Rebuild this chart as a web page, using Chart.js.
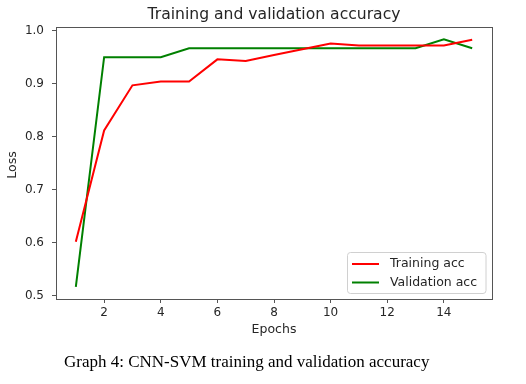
<!DOCTYPE html>
<html>
<head>
<meta charset="utf-8">
<script src="https://cdn.jsdelivr.net/npm/chart.js@4/dist/chart.umd.min.js"></script>
<style>
  html, body { margin: 0; padding: 0; background: #fff; }
  #wrap { position: relative; width: 526px; height: 384px; }
  #c { position: absolute; left: 0; top: 0; }
  #caption { position: absolute; left: 64px; top: 351px; font-family: "Liberation Serif", "Times New Roman", serif; font-size: 17px; color: #000; white-space: nowrap; line-height: 21px; }
</style>
</head>
<body>
<div id="wrap">
  <canvas id="c" width="526" height="384"></canvas>
  <div id="caption">Graph 4: CNN-SVM training and validation accuracy</div>
</div>
<script>
const epochs = [1, 2, 3, 4, 5, 6, 7, 8, 9, 10, 11, 12, 13, 14, 15];
const trainingAcc = [0.602, 0.812, 0.897, 0.904, 0.904, 0.946, 0.943, 0.954, 0.965, 0.976, 0.972, 0.972, 0.972, 0.972, 0.983];
const validationAcc = [0.517, 0.950, 0.950, 0.950, 0.967, 0.967, 0.967, 0.967, 0.967, 0.967, 0.967, 0.967, 0.967, 0.984, 0.967];
const xTicks = [2, 4, 6, 8, 10, 12, 14];
const yTicks = [0.5, 0.6, 0.7, 0.8, 0.9, 1.0];
const seriesLabels = ["Training acc", "Validation acc"];
const seriesColors = ["#ff0000", "#008000"];
const titleText = "Training and validation accuracy";
const xTitle = "Epochs";
const yTitle = "Loss";

const FONT = "'DejaVu Sans', sans-serif";
const TEXT = "#262626";
const SPINE = "#555555";

const toPts = (vals) => epochs.map((e, i) => ({ x: e, y: vals[i] }));

const decor = {
  id: 'decor',
  afterDraw(chart) {
    const ctx = chart.ctx;
    const a = chart.chartArea;
    ctx.save();
    // frame
    ctx.strokeStyle = SPINE;
    ctx.lineWidth = 1;
    ctx.strokeRect(Math.round(a.left) + 0.5, Math.round(a.top) + 0.5, Math.round(a.right - a.left), Math.round(a.bottom - a.top));
    // title
    ctx.fillStyle = TEXT;
    ctx.font = "15.6px " + FONT;
    ctx.textAlign = 'center';
    ctx.textBaseline = 'middle';
    ctx.fillText(titleText, (a.left + a.right) / 2, 15);
    // x title
    ctx.font = "12.5px " + FONT;
    ctx.fillText(xTitle, (a.left + a.right) / 2, 330);
    // y title
    ctx.save();
    ctx.translate(13, (a.top + a.bottom) / 2 + 2);
    ctx.rotate(-Math.PI / 2);
    ctx.fillText(yTitle, 0, 0);
    ctx.restore();
    // legend
    const lx = 347.5, ly = 252.5, lw = 138.5, lh = 41, r = 3;
    ctx.beginPath();
    ctx.moveTo(lx + r, ly);
    ctx.lineTo(lx + lw - r, ly);
    ctx.arcTo(lx + lw, ly, lx + lw, ly + r, r);
    ctx.lineTo(lx + lw, ly + lh - r);
    ctx.arcTo(lx + lw, ly + lh, lx + lw - r, ly + lh, r);
    ctx.lineTo(lx + r, ly + lh);
    ctx.arcTo(lx, ly + lh, lx, ly + lh - r, r);
    ctx.lineTo(lx, ly + r);
    ctx.arcTo(lx, ly, lx + r, ly, r);
    ctx.closePath();
    ctx.fillStyle = 'rgba(255,255,255,0.8)';
    ctx.fill();
    ctx.strokeStyle = '#d0d0d0';
    ctx.lineWidth = 1;
    ctx.stroke();
    const rows = [264, 282.5];
    chart.data.datasets.forEach((ds, i) => {
      ctx.strokeStyle = ds.borderColor;
      ctx.lineWidth = 2;
      ctx.beginPath();
      ctx.moveTo(352, rows[i]);
      ctx.lineTo(379, rows[i]);
      ctx.stroke();
      ctx.fillStyle = TEXT;
      ctx.font = "12.5px " + FONT;
      ctx.textAlign = 'left';
      ctx.textBaseline = 'middle';
      ctx.fillText(ds.label, 390, rows[i]);
    });
    ctx.restore();
  }
};

new Chart(document.getElementById('c'), {
  type: 'line',
  data: {
    datasets: [
      { label: seriesLabels[0], data: toPts(trainingAcc), borderColor: seriesColors[0], backgroundColor: seriesColors[0], borderWidth: 2, pointRadius: 0, tension: 0, fill: false },
      { label: seriesLabels[1], data: toPts(validationAcc), borderColor: seriesColors[1], backgroundColor: seriesColors[1], borderWidth: 2, pointRadius: 0, tension: 0, fill: false }
    ]
  },
  options: {
    responsive: false,
    animation: false,
    devicePixelRatio: 1,
    layout: { padding: { top: 27, right: 34, left: 0, bottom: 55 } },
    plugins: { legend: { display: false }, title: { display: false }, tooltip: { enabled: false } },
    scales: {
      x: {
        type: 'linear',
        min: 0.3,
        max: 15.7,
        afterBuildTicks: (s) => { s.ticks = xTicks.map(v => ({ value: v })); },
        afterFit: (s) => { s.height = 30; },
        grid: { display: true, drawOnChartArea: false, drawTicks: true, tickLength: 4, color: SPINE },
        border: { display: false },
        ticks: { color: TEXT, font: { family: FONT, size: 12 }, padding: 3, maxRotation: 0, autoSkip: false, callback: (v) => String(v) }
      },
      y: {
        type: 'linear',
        min: 0.494,
        max: 1.007,
        afterBuildTicks: (s) => { s.ticks = yTicks.map(v => ({ value: v })); },
        afterFit: (s) => { s.width = 56; },
        grid: { display: true, drawOnChartArea: false, drawTicks: true, tickLength: 4, color: SPINE },
        border: { display: false },
        ticks: { color: TEXT, font: { family: FONT, size: 12 }, padding: 8, autoSkip: false, callback: (v) => Number(v).toFixed(1) }
      }
    }
  },
  plugins: [decor]
});
</script>
</body>
</html>
